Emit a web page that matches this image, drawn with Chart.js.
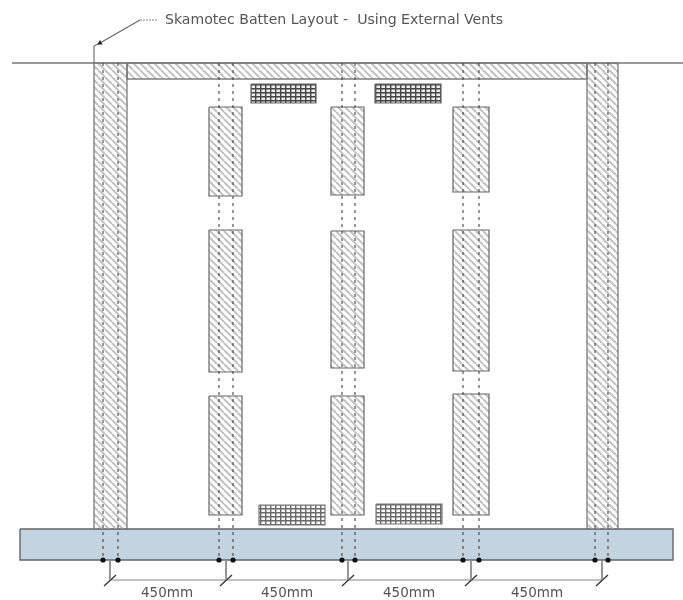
<!DOCTYPE html>
<html>
<head>
<meta charset="utf-8">
<script src="https://cdn.jsdelivr.net/npm/chart.js@4"></script>
<style>
  html, body { margin: 0; padding: 0; background: #fff; }
  canvas { display: block; filter: blur(0.5px); }
</style>
</head>
<body>
<canvas id="myChart" width="683" height="600"></canvas>
<script>
// boxes are [left, right, top, bottom], axis runs 0-683 across and 0-600 down
const walls = [[94, 127, 63, 529], [587, 618, 63, 529]];
const beam = [[127, 587, 63, 79]];
const battens = [
  [209, 242, 107, 196], [209, 242, 230, 372], [209, 242, 396, 515],
  [331, 364, 107, 195], [331, 364, 231, 368], [331, 364, 396, 515],
  [453, 489, 107, 192], [453, 489, 230, 371], [453, 489, 394, 515]
];
const topVents = [[251, 316, 84, 103], [375, 441, 84, 103]];
const bottomVents = [[259, 325, 505, 525], [376, 442, 504, 524]];
const slab = [[20, 673, 529, 560]];
const fixingX = [103, 118, 219, 233, 342, 355, 463, 479, 595, 608];
const dimX = [110, 226, 348, 471, 602];
const dimLabels = ['450mm', '450mm', '450mm', '450mm'];
const dimLabelX = [167, 287, 409, 537];
const leaderX = [94, 94, 100, 140];
const leaderY = [63, 46, 43, 20];
const leaderTailX = [140, 158];
const titleText = 'Skamotec Batten Layout -  Using External Vents';

function makeHatch(){
  const c = document.createElement('canvas');
  c.width = 7; c.height = 7;
  const g = c.getContext('2d');
  g.strokeStyle = '#c2c2c2';
  g.lineWidth = 2;
  // tile the "\" stripes
  [[-7, 0], [0, 0], [7, 0]].forEach(p => {
    g.beginPath();
    g.moveTo(p[0], 0);
    g.lineTo(p[0] + 7, 7);
    g.stroke();
  });
  return g.createPattern(c, 'repeat');
}

function makeGrid(back, ink){
  const c = document.createElement('canvas');
  c.width = 5; c.height = 4;
  const g = c.getContext('2d');
  g.fillStyle = back;
  g.fillRect(0, 0, 5, 4);
  g.fillStyle = ink;
  g.fillRect(0, 0, 5, 1.5);
  g.fillRect(0, 0, 1.4, 4);
  return g.createPattern(c, 'repeat');
}

function outline(b){
  return [{x: b[0], y: b[2]}, {x: b[1], y: b[2]}, {x: b[1], y: b[3]}, {x: b[0], y: b[3]}, {x: b[0], y: b[2]}];
}

function boxes(list, fillStyle, edge, width){
  return list.map(b => ({
    type: 'line', data: outline(b), borderColor: edge, borderWidth: width || 1.2,
    backgroundColor: fillStyle, fill: 'shape', pointRadius: 0, tension: 0
  }));
}

function line(points, colour, width, dash){
  return {
    type: 'line', data: points, borderColor: colour, borderWidth: width,
    borderDash: dash || [], fill: false, pointRadius: 0, tension: 0
  };
}

const hatch = makeHatch();
const datasets = [];

// first dataset ends up on top
datasets.push({
  type: 'scatter',
  data: fixingX.map(x => ({x: x, y: slab[0][3]})),
  pointRadius: 2.6, pointBackgroundColor: '#111', pointBorderWidth: 0, showLine: false
});
datasets.push({
  type: 'scatter',
  data: [{x: leaderX[2], y: leaderY[2]}],
  pointStyle: 'triangle', pointRadius: 3, rotation: -120,
  pointBackgroundColor: '#222', pointBorderWidth: 0, showLine: false
});
fixingX.forEach(x => {
  datasets.push(line([{x: x, y: 63}, {x: x, y: slab[0][3]}], '#444', 1.1, [3, 4]));
});
dimX.forEach(x => {
  datasets.push(line([{x: x, y: 561}, {x: x, y: 580}], '#888', 1));
  datasets.push(line([{x: x - 6, y: 586}, {x: x + 6, y: 575}], '#333', 1.3));
});
datasets.push(line([{x: dimX[0], y: 580}, {x: dimX[4], y: 580}], '#888', 1));
datasets.push(line(leaderX.map((x, i) => ({x: x, y: leaderY[i]})), '#666', 1.1));
datasets.push(line(leaderTailX.map(x => ({x: x, y: 20})), '#888', 1.1, [2, 1]));
datasets.push(...boxes(topVents, makeGrid('#ececec', '#454545'), '#666'));
datasets.push(...boxes(bottomVents, makeGrid('#fafafa', '#6a6a6a'), '#777'));
datasets.push(...boxes(battens, hatch, '#666'));
datasets.push(line([{x: 12, y: 63}, {x: 683, y: 63}], '#777', 1.4));
datasets.push(...boxes(walls, hatch, '#707070'));
datasets.push(...boxes(beam, hatch, '#808080', 1.6));
datasets.push(...boxes(slab, '#c3d3df', '#666', 1.4));

// text goes through the axes too
const labelPlugin = {
  id: 'drawingText',
  afterDatasetsDraw(chart){
    const g = chart.ctx, sx = chart.scales.x, sy = chart.scales.y;
    g.save();
    g.textBaseline = 'middle';
    g.fillStyle = '#555';
    g.font = '14.1px "DejaVu Sans"';
    g.fillText(titleText, sx.getPixelForValue(165), sy.getPixelForValue(20));
    g.textAlign = 'center';
    g.font = '13.5px "DejaVu Sans"';
    dimLabels.forEach((t, i) => {
      g.fillText(t, sx.getPixelForValue(dimLabelX[i]), sy.getPixelForValue(593));
    });
    g.restore();
  }
};

const ctx = document.getElementById('myChart').getContext('2d');
const myChart = new Chart(ctx, {
  type: 'scatter',
  data: {datasets: datasets},
  plugins: [labelPlugin],
  options: {
    responsive: false,
    animation: false,
    layout: {padding: 0, autoPadding: false},
    plugins: {legend: {display: false}, tooltip: {enabled: false}},
    scales: {
      x: {type: 'linear', min: 0, max: 683, display: false},
      y: {type: 'linear', min: 0, max: 600, reverse: true, display: false}
    }
  }
});
</script>
</body>
</html>
